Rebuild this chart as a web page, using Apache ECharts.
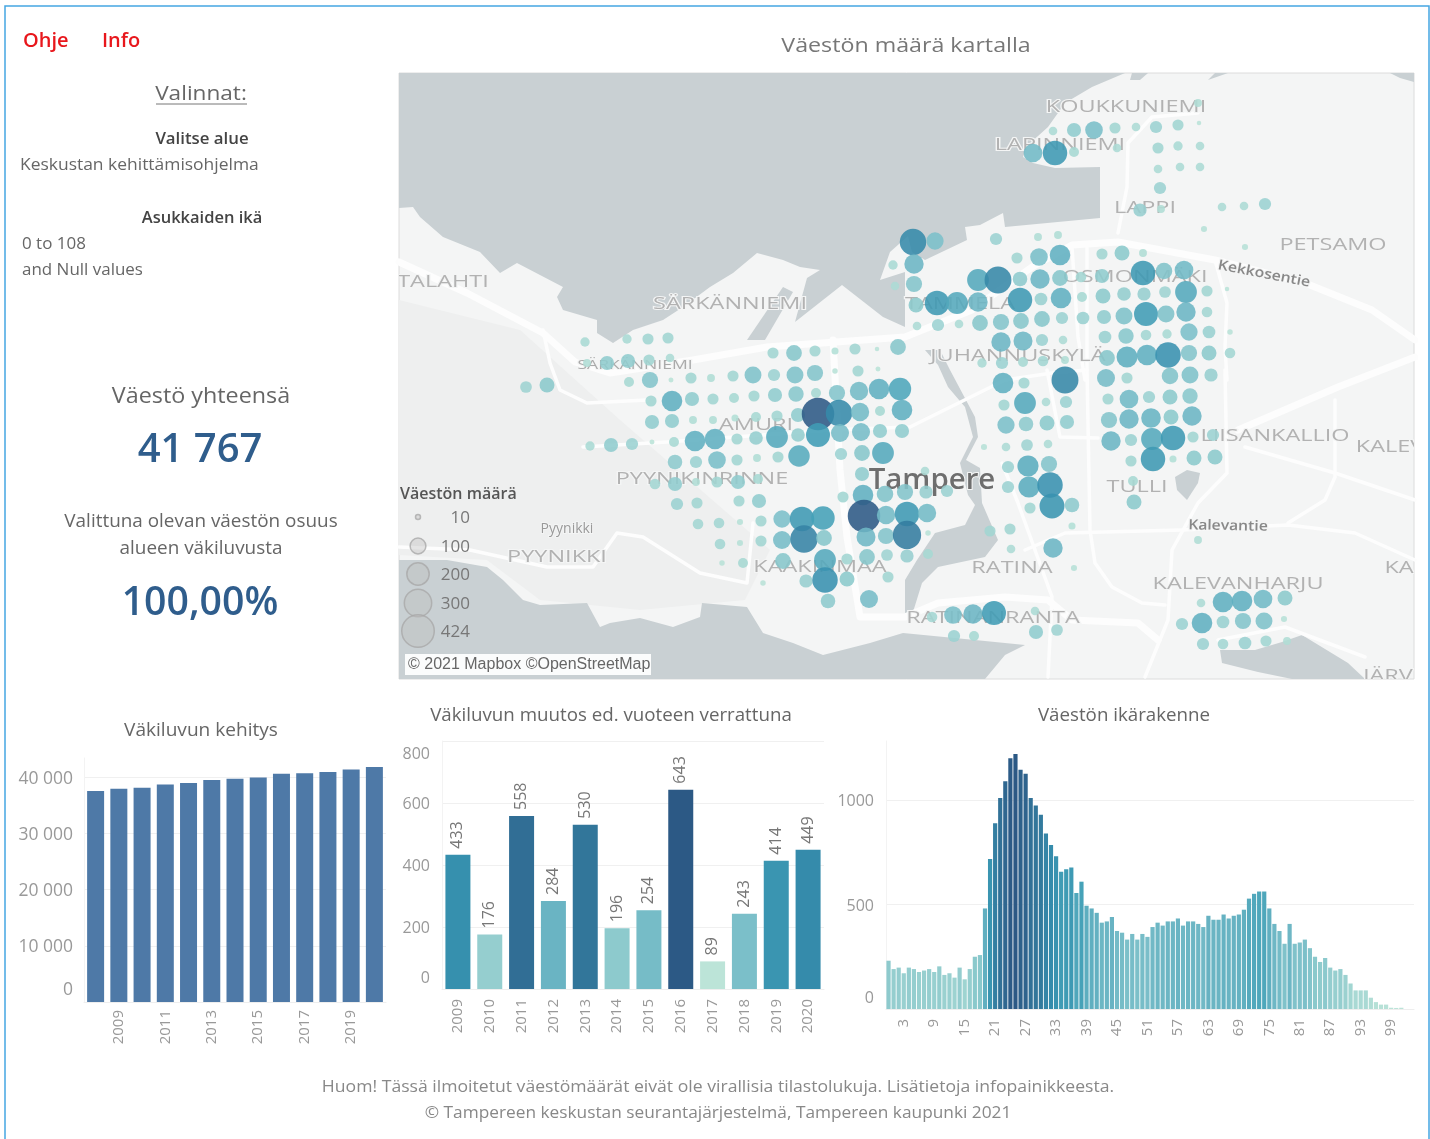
<!DOCTYPE html>
<html>
<head>
<meta charset="utf-8">
<title>Väestön määrä</title>
<script src="https://cdn.jsdelivr.net/npm/echarts@6/dist/echarts.min.js"></script>
<style>
  html, body { margin: 0; padding: 0; background: #fff; }
  #main { width: 1430px; height: 1139px; }
</style>
</head>
<body>
<div id="main"></div>
<script>
// väkiluku vuosittain
const popYears = ['2008','2009','2010','2011','2012','2013','2014','2015','2016','2017','2018','2019','2020']
const popValues = [37498,37931,38107,38665,38949,39479,39675,39929,40572,40661,40904,41318,41767]

// muutos ed. vuoteen
const changeYears = ['2009','2010','2011','2012','2013','2014','2015','2016','2017','2018','2019','2020']
const changeValues = [433,176,558,284,530,196,254,643,89,243,414,449]

// ikärakenne, iät 0-103
const ageValues = [231,191,198,171,198,191,177,184,191,177,204,163,171,150,198,142,191,250,258,481,
  718,888,1009,1090,1199,1220,1144,1125,1009,974,929,840,785,731,656,669,677,555,609,494,
  481,460,413,419,440,373,365,332,359,332,359,345,392,413,399,419,419,433,399,419,
  419,407,392,446,427,427,452,433,446,452,475,528,551,562,562,481,407,373,312,407,
  312,318,332,291,250,225,244,198,184,191,163,122,89,89,89,54,33,21,21,6,5,6,0,0]
const ageLabels = ageValues.map((v, i) => String(i))

// kartan pallot: x, y (kartan koordinaatit), asukkaita
const mapDots = [
  [585,342,35],[627,339,35],[648,339,50],[668,338,50],[607,363,80],[628,361,80],[649,360,50],[670,358,30],[587,363,25],
  [773,353,50],[794,353,100],[815,351,50],[835,351,20],[855,349,50],[877,349,8],[898,347,100],
  [526,387,55],[547,385,90],[629,382,40],[650,380,105],[671,380,10],[691,378,50],[711,378,25],[733,376,50],[753,375,115],
  [774,375,60],[795,375,115],[815,373,105],[835,371,12],[858,371,50],[878,369,10],
  [651,401,50],[672,401,170],[692,399,80],[713,399,50],[734,398,40],[754,396,50],[775,395,80],[796,394,95],[816,393,40],
  [837,393,105],[859,391,135],[879,389,170],[900,389,200],
  [652,422,80],[672,421,80],[693,420,25],[713,420,25],[735,418,20],[756,417,40],[777,416,50],[798,415,80],[818,414,424],
  [839,413,280],[860,412,135],[880,411,40],[902,410,170],
  [590,446,35],[611,445,80],[632,444,60],[652,442,10],[674,442,40],[695,441,170],[715,439,170],[737,439,50],[756,438,75],
  [777,437,190],[798,435,75],[818,435,230],[840,433,130],[861,432,130],[880,431,80],[902,431,80],
  [675,462,85],[696,462,60],[717,460,125],[737,460,50],[757,458,25],[778,457,50],[799,456,185],[841,454,60],[862,453,100],[883,453,190],
  [655,484,45],[675,484,80],[696,482,25],[717,482,50],[738,482,80],[758,479,40],[862,474,80],
  [677,504,60],[697,503,50],[739,501,50],[759,501,80],[843,497,50],[863,495,170],[885,494,110],[905,492,105],[926,492,70],[947,491,60],
  [698,524,45],[719,523,45],[740,522,15],[761,521,50],[782,519,120],[802,519,240],[823,518,220],[864,516,424],[886,515,135],[907,514,240],[927,513,135],
  [720,544,45],[740,543,15],[761,541,50],[782,540,130],[804,539,300],[824,538,100],[866,537,145],[886,536,105],[907,535,320],[928,533,12],
  [722,563,12],[743,563,40],[783,561,100],[825,560,190],[847,559,50],[867,557,100],[887,555,55],[907,556,70],[928,554,40],
  [763,583,12],[806,581,70],[825,580,260],[847,579,90],[888,577,50],[828,601,85],[869,599,130],
  [925,471,30],[990,531,50],[1010,529,50],[1011,549,30],[1053,548,150],[1074,568,15],[1072,526,20],[1030,508,50],[1052,506,250],[1072,505,85],
  [1008,487,60],[1029,487,180],[1050,485,260],[1008,467,60],[1028,466,180],[1049,464,105],[984,447,15],[1006,447,30],[1027,445,55],[1048,444,30],
  [1006,425,120],[1026,424,85],[1047,423,90],[1067,422,80],[1004,405,50],[1025,403,190],[1046,402,30],[1066,402,60],[1003,383,170],[1024,383,50],[1065,380,290],
  [1106,378,130],[1127,378,50],[1170,376,110],[1190,375,115],[1211,375,70],[1108,399,50],[1129,399,140],[1149,397,60],[1170,397,90],[1190,396,95],
  [1109,420,105],[1129,419,150],[1151,418,155],[1171,417,90],[1192,416,150],[1111,441,150],[1131,440,60],[1152,439,190],[1173,438,240],[1193,437,50],[1213,435,60],
  [1131,461,50],[1153,459,240],[1173,459,20],[1194,458,90],[1215,457,90],[1133,481,40],[1134,502,90],[1198,540,25],
  [1201,603,30],[1223,602,170],[1242,601,170],[1263,599,140],[1285,598,90],[1182,624,60],[1202,623,170],[1223,622,65],[1243,621,105],[1264,621,115],[1284,619,15],
  [1203,644,60],[1223,644,45],[1245,643,65],[1266,641,50],[1287,641,25],
  [932,617,45],[953,615,125],[973,614,150],[994,613,230],[1035,611,30],[1036,632,80],[1057,630,55],[954,636,60],[974,636,40],
  [1198,103,25],[1053,131,30],[1074,130,80],[1094,130,125],[1115,128,50],[1136,127,30],[1156,127,60],[1178,125,50],[1199,123,8],
  [1033,153,140],[1055,153,240],[1074,152,40],[1117,148,30],[1158,148,50],[1178,146,35],[1200,146,30],[1158,169,30],[1180,167,30],[1200,167,30],
  [1160,188,60],[1140,210,70],[1161,209,25],[1222,207,30],[1244,206,30],[1265,204,60],[1204,229,15],[1245,247,15],
  [913,242,280],[935,241,120],[996,239,60],[1038,237,25],[1058,235,25],[1017,258,50],[1039,257,125],[1060,255,170],[1102,254,50],[1122,253,90],[1143,253,25],
  [914,264,150],[893,265,35],[895,286,30],[914,284,105],[978,280,190],[998,280,290],[1020,279,85],[1040,279,150],[1060,278,100],[1081,277,45],[1102,276,80],[1143,273,240],[1164,271,110],[1184,270,140],
  [916,305,90],[937,303,240],[957,303,190],[978,302,150],[1020,300,240],[1041,299,65],[1061,298,170],[1082,297,40],[1103,296,90],[1124,294,75],[1144,294,70],[1165,292,55],[1186,292,190],[1207,291,50],[1227,289,8],
  [917,326,30],[938,325,60],[959,324,30],[980,323,100],[1001,322,105],[1021,321,100],[1042,319,100],[1062,318,60],[1083,318,65],[1104,317,80],[1124,316,115],[1146,314,230],[1166,314,115],[1186,312,150],[1207,312,45],
  [1230,332,12],[1001,342,150],[1023,341,145],[1042,340,60],[1063,340,30],[1105,337,65],[1126,336,95],[1146,335,45],[1167,334,35],[1189,332,120],[1209,332,65],
  [982,363,35],[1002,363,60],[1023,362,40],[1043,361,45],[1065,360,25],[1107,358,100],[1127,357,175],[1147,355,170],[1168,355,260],[1189,353,105],[1209,353,90],[1230,353,45]
]

// vesialueet kartalla
const waterAreas = [
  [[399,73],[1125,73],[1092,87],[1065,103],[1048,127],[1028,145],[1023,157],[1033,163],[1055,168],[1100,167],[1100,218],[1005,227],[1003,213],
   [980,225],[965,227],[967,240],[925,260],[912,252],[908,236],[890,252],[880,280],[905,272],[905,327],[883,317],[842,285],[795,322],[807,278],
   [820,270],[800,267],[783,260],[757,253],[733,273],[710,287],[683,307],[663,320],[633,330],[613,343],[597,333],[597,320],[563,310],[557,297],
   [563,287],[517,263],[500,273],[480,252],[443,237],[420,217],[413,207],[399,208]],
  [[747,340],[783,287],[793,292],[765,340]],
  [[399,560],[447,560],[487,567],[503,580],[523,600],[540,605],[587,603],[600,627],[610,623],[640,618],[673,627],[700,617],[702,603],[747,607],
   [763,633],[793,643],[823,655],[870,643],[903,633],[975,640],[1025,645],[1005,655],[985,679],[399,679]],
  [[905,613],[905,580],[917,560],[935,533],[965,525],[975,505],[968,495],[960,463],[973,437],[965,407],[948,387],[938,365],[925,350],[940,350],
   [950,370],[975,417],[978,437],[966,460],[980,468],[982,503],[998,540],[985,557],[938,567],[922,583],[913,612]],
  [[1220,650],[1222,663],[1258,672],[1292,679],[1365,679],[1348,663],[1302,635],[1282,642],[1255,650]],
  [[1187,470],[1200,473],[1198,483],[1187,500],[1177,490],[1175,477]],
  [[1132,73],[1148,73],[1140,80],[1130,80]],
  [[1208,80],[1228,73],[1215,73]],
  [[1390,73],[1414,73],[1414,82],[1400,78]]
]

// maaston varjostus vasemmalla
const landShade = [[399,300],[520,330],[620,420],[770,550],[745,600],[640,610],[540,600],[487,560],[399,555]]

// isot tiet
const mainRoads = [
  [[399,262],[467,293],[543,333],[575,362],[610,373],[693,360],[767,347],[905,337],[972,310],[1032,267],[1072,245],[1118,242],[1215,260],[1305,283],[1372,310],[1415,340]],
  [[1238,430],[1338,387],[1415,357]],
  [[833,340],[840,470],[847,537],[860,617],[905,617],[938,603],[1005,597],[1048,600],[1072,620],[1138,623],[1158,640]]
]

// pienemmät kadut
const minorRoads = [
  [[543,330],[550,363],[560,390],[587,403],[647,400]],
  [[583,447],[667,442],[830,430],[910,427],[1005,380],[1052,373],[1087,370]],
  [[399,547],[470,550],[547,567],[593,567],[617,533],[643,537],[700,573],[747,583],[753,523]],
  [[1087,248],[1087,370],[1090,530],[1095,563],[1112,587],[1142,603],[1165,605]],
  [[1025,550],[1065,533],[1182,530],[1288,525],[1355,533],[1415,560]],
  [[1225,370],[1227,473],[1198,503],[1172,550],[1168,620],[1145,677]],
  [[1245,447],[1335,473],[1415,500]],
  [[1335,400],[1335,477],[1325,500],[1288,523]],
  [[1048,677],[1052,597],[1018,503],[1002,463]],
  [[1198,113],[1152,117],[1128,143],[1127,187],[1118,233]],
  [[1215,260],[1227,303],[1225,347],[1227,380]],
  [[1072,247],[1078,337],[1085,380]],
  [[1047,370],[1060,437],[1098,438]],
  [[1218,640],[1285,627],[1365,657]]
]

// paikannimet kartalla
const placeNames = ['TALAHTI','SÄRKÄNNIEMI','KOUKKUNIEMI','LAPINNIEMI','LAPPI','PETSAMO','OSMONMÄKI','TAMMELA','JUHANNUSKYLÄ',
  'AMURI','LIISANKALLIO','KALEV','KA','TULLI','RATINA','KAAKINMAA','RATINANRANTA','PYYNIKINRINNE','PYYNIKKI','KALEVANHARJU','JÄRV']
const placeX = [443,730,1126,1060,1145,1333,1135,960,1018,756,1275,1390,1399,1137,1012,820,993,702,557,1238,1388]
const placeY = [282,304,107,145,208,245,277,304,356,425,436,447,568,487,568,567,618,479,557,584,676]

const legendValues = [10,100,200,300,424]
const legendY = [517,546,574,603,631]

// Blue-Teal väriskaala
const blueTeal = ['#bce4d8','#aedcd5','#a1d5d2','#95cecf','#89c8cc','#7ec1ca','#72bac6','#66b2c2','#59acbe','#4ba5ba',
  '#419eb6','#3b96b2','#358ead','#3586a7','#347ea1','#32779b','#316f96','#2f6790','#2d608a','#2c5985']

const fontName = 'Open Sans'
const axisColor = '#999'
const gridColor = '#f0f0f0'

const dotSize = v => 1.58 * Math.sqrt(v)
const spaced = v => String(v).replace(/\B(?=(\d{3})+$)/g, ' ')

// y-akselin tekstit: nolla nostetaan ylös ja ylin arvo lasketaan alas kuten kuvassa
function yLabels (show, zeroLift, topDrop, topValue, size) {
  const base = { fontSize: size, color: axisColor, fontFamily: fontName }
  return {
    margin: 10,
    formatter: v => {
      if (v === 0) return '{z|0}'
      if (v === topValue) return '{t|' + show(v) + '}'
      return '{a|' + show(v) + '}'
    },
    rich: {
      a: Object.assign({ padding: [3, 0, 0, 0] }, base),
      z: Object.assign({ padding: [0, 0, zeroLift * 2, 0] }, base),
      t: Object.assign({ padding: [topDrop * 2, 0, 0, 0] }, base)
    }
  }
}

// yksittäinen teksti graphic-elementtinä
function txt (text, x, y, size, color, align, weight, scaleX) {
  return {
    type: 'text', x: x, y: y, z: 50, scaleX: scaleX || 1, silent: true,
    style: {
      text: text, fill: color, fontSize: size, fontFamily: fontName, fontWeight: weight || 'normal',
      align: align || 'center', verticalAlign: 'middle'
    }
  }
}

// kartan tekstit, x ja y kartan akseleilta
function mapText (pos, api, text, size, color, halo, scaleX, align, rotation, weight) {
  const pt = api.coord(pos)
  return {
    type: 'text', x: pt[0], y: pt[1], scaleX: scaleX, rotation: rotation || 0,
    style: {
      text: text, fill: color, fontSize: size, fontFamily: fontName, fontWeight: weight || 'normal',
      stroke: halo ? '#f4f5f5' : null, lineWidth: halo ? 2 : 0,
      align: align || 'center', verticalAlign: 'middle'
    }
  }
}

const chart = echarts.init(document.getElementById('main'))

const option = {
  animation: false,
  backgroundColor: '#fff',
  grid: [
    { left: 399, top: 73, width: 1015, height: 606, show: true, backgroundColor: '#f4f5f5', borderColor: '#dcdcdc', borderWidth: 1 },
    { left: 84, top: 758, width: 302, height: 244 },
    { left: 442, top: 741, width: 382, height: 248 },
    { left: 886, top: 741, width: 528, height: 268 }
  ],
  xAxis: [
    { gridIndex: 0, type: 'value', min: 399, max: 1414, show: false },
    {
      gridIndex: 1, type: 'category', data: popYears,
      axisTick: { show: false }, axisLine: { lineStyle: { color: '#eee' } },
      axisLabel: { rotate: 90, margin: 8, fontSize: 15, color: axisColor, fontFamily: fontName, interval: (i) => i % 2 === 1 }
    },
    {
      gridIndex: 2, type: 'category', data: changeYears,
      axisTick: { show: false }, axisLine: { lineStyle: { color: '#eee' } },
      axisLabel: { rotate: 90, margin: 10, fontSize: 15, color: axisColor, fontFamily: fontName, interval: 0 }
    },
    {
      gridIndex: 3, type: 'category', data: ageLabels,
      axisTick: { show: false }, axisLine: { lineStyle: { color: '#eee' } },
      axisLabel: { rotate: 90, margin: 10, fontSize: 15, color: axisColor, fontFamily: fontName, interval: (i) => i % 6 === 3 }
    }
  ],
  yAxis: [
    { gridIndex: 0, type: 'value', min: 73, max: 679, inverse: true, show: false },
    {
      gridIndex: 1, type: 'value', min: 0, max: 43385, interval: 10000,
      axisLine: { show: true, lineStyle: { color: '#f3f3f3' } }, axisTick: { show: false },
      splitLine: { showMaxLine: false, lineStyle: { color: gridColor } },
      axisLabel: Object.assign(yLabels(spaced, 12, 0, null, 17.5), { showMaxLabel: false, margin: 11 })
    },
    {
      gridIndex: 2, type: 'value', min: 0, max: 800, interval: 200,
      axisLine: { show: true, lineStyle: { color: '#f3f3f3' } }, axisTick: { show: false },
      splitLine: { lineStyle: { color: gridColor } },
      axisLabel: Object.assign(yLabels(String, 11, 13, 800, 16), { margin: 12 })
    },
    {
      gridIndex: 3, type: 'value', min: 0, max: 1282, interval: 500,
      axisLine: { show: true, lineStyle: { color: '#f3f3f3' } }, axisTick: { show: false },
      splitLine: { showMaxLine: false, lineStyle: { color: gridColor } },
      axisLabel: Object.assign(yLabels(String, 11, 0, null, 16), { showMaxLabel: false, margin: 12 })
    }
  ],
  visualMap: [
    { show: false, seriesIndex: 3, dimension: 2, min: 5, max: 424, inRange: { color: blueTeal } },
    { show: false, seriesIndex: 8, dimension: 1, min: 89, max: 643, inRange: { color: blueTeal } },
    { show: false, seriesIndex: 9, dimension: 1, min: 0, max: 1220, inRange: { color: blueTeal } }
  ],
  series: [
    // 0 vesialueet
    {
      type: 'custom', xAxisIndex: 0, yAxisIndex: 0, clip: true, silent: true,
      data: waterAreas.map((a, i) => [i]),
      renderItem: (params, api) => ({
        type: 'polygon',
        shape: { points: waterAreas[api.value(0)].map(p => api.coord(p)) },
        style: { fill: '#c9d0d3' }
      })
    },
    // 1-2 tiet
    {
      type: 'lines', coordinateSystem: 'cartesian2d', xAxisIndex: 0, yAxisIndex: 0, polyline: true, silent: true,
      lineStyle: { color: '#fdfdfd', width: 7, opacity: 1, cap: 'round', join: 'round' },
      data: mainRoads.map(r => ({ coords: r }))
    },
    {
      type: 'lines', coordinateSystem: 'cartesian2d', xAxisIndex: 0, yAxisIndex: 0, polyline: true, silent: true,
      lineStyle: { color: '#fdfdfd', width: 3.5, opacity: 1, cap: 'round', join: 'round' },
      data: minorRoads.map(r => ({ coords: r }))
    },
    // 3 väestöpallot
    {
      type: 'scatter', xAxisIndex: 0, yAxisIndex: 0, silent: true,
      data: mapDots,
      symbolSize: v => dotSize(v[2]),
      itemStyle: { opacity: 0.88 }
    },
    // 4 paikannimet
    {
      type: 'custom', xAxisIndex: 0, yAxisIndex: 0, clip: true, silent: true,
      data: placeNames.map((n, i) => [placeX[i], placeY[i], i]),
      renderItem: (params, api) => mapText([api.value(0), api.value(1)], api, placeNames[api.value(2)], 17, '#b2b2b2', true, 1.38)
    },
    // 5 kaupunki, tiet ja muut erikoiskoot
    {
      type: 'custom', xAxisIndex: 0, yAxisIndex: 0, clip: true, silent: true,
      data: [[932, 481], [635, 365], [567, 529], [1264, 274], [1228, 526]],
      renderItem: (params, api) => {
        const pos = [api.value(0), api.value(1)]
        const i = params.dataIndex
        if (i === 0) return mapText(pos, api, 'Tampere', 28, '#6e6e6e', true, 1.05, 'center', 0, 600)
        if (i === 1) return mapText(pos, api, 'SÄRKÄNNIEMI', 13, '#aaaaaa', true, 1.35)
        if (i === 2) return mapText(pos, api, 'Pyynikki', 14, '#999999', true, 1)
        if (i === 3) return mapText(pos, api, 'Kekkosentie', 14, '#888888', true, 1.13, 'center', -0.19, 600)
        return mapText(pos, api, 'Kalevantie', 14, '#888888', true, 1.12, 'center', -0.02, 600)
      }
    },
    // 6 koon selite
    {
      type: 'scatter', xAxisIndex: 0, yAxisIndex: 0, silent: true,
      data: legendValues.map((v, i) => [418, legendY[i], v]),
      symbolSize: v => dotSize(v[2]),
      itemStyle: { color: 'rgba(190,190,190,0.5)', borderColor: '#a9a9a9', borderWidth: 1.5 }
    },
    // 7 väkiluku
    {
      type: 'bar', xAxisIndex: 1, yAxisIndex: 1, data: popValues, barWidth: 17,
      itemStyle: { color: '#4e79a7' }, silent: true
    },
    // 8 muutos
    {
      type: 'bar', xAxisIndex: 2, yAxisIndex: 2, data: changeValues, barWidth: 25, silent: true,
      label: { show: true, position: 'top', rotate: 90, align: 'left', verticalAlign: 'middle', distance: 6, fontSize: 16, color: '#777', fontFamily: fontName }
    },
    // 9 ikärakenne
    {
      type: 'bar', xAxisIndex: 3, yAxisIndex: 3, data: ageValues, barWidth: 4.2, silent: true
    },
    // 10 selitteen luvut
    {
      type: 'custom', xAxisIndex: 0, yAxisIndex: 0, silent: true,
      data: legendValues.map((v, i) => [470, legendY[i] + 1, v]),
      renderItem: (params, api) => mapText([api.value(0), api.value(1)], api, String(api.value(2)), 17, '#777777', false, 1, 'right')
    },
    // 11 maaston varjostus veden alle
    {
      type: 'custom', xAxisIndex: 0, yAxisIndex: 0, clip: true, silent: true, z: 1,
      data: [[0]],
      renderItem: (params, api) => ({
        type: 'polygon',
        shape: { points: landShade.map(p => api.coord(p)) },
        style: { fill: '#eeefef' }
      })
    }
  ],
  graphic: [
    txt('Ohje', 23, 41, 20, '#e8171c', 'left', 600),
    txt('Info', 102, 41, 20, '#e8171c', 'left', 600),
    txt('Väestön määrä kartalla', 906, 46, 20, '#777', 'center', 'normal', 1.16),
    txt('Valinnat:', 201, 94, 20, '#666', 'center', 'normal', 1.13),
    { type: 'line', z: 50, shape: { x1: 156, y1: 104, x2: 247, y2: 104 }, style: { stroke: '#777', lineWidth: 1 } },
    txt('Valitse alue', 202, 139, 16, '#444', 'center', 600, 1.05),
    txt('Keskustan kehittämisohjelma', 20, 165, 16, '#666', 'left', 'normal', 1.09),
    txt('Asukkaiden ikä', 202, 218, 16, '#444', 'center', 600, 1.03),
    txt('0 to 108', 22, 244, 16, '#666', 'left', 'normal', 1.06),
    txt('and Null values', 22, 270, 16, '#666', 'left', 'normal', 1.06),
    txt('Väestö yhteensä', 201, 397, 22, '#666', 'center', 'normal', 1.06),
    txt('41 767', 200, 451, 40, '#2f5d8c', 'center', 600, 1.0),
    txt('Valittuna olevan väestön osuus', 201, 522, 18, '#666', 'center', 'normal', 1.05),
    txt('alueen väkiluvusta', 201, 549, 18, '#666', 'center', 'normal', 1.05),
    txt('100,00%', 200, 604, 40, '#2f5d8c', 'center', 600, 0.98),
    txt('Väkiluvun kehitys', 201, 731, 18, '#666', 'center', 'normal', 1.06),
    txt('Väkiluvun muutos ed. vuoteen verrattuna', 611, 716, 18, '#666', 'center', 'normal', 1.04),
    txt('Väestön ikärakenne', 1124, 716, 18, '#666', 'center', 'normal', 1.04),
    txt('Väestön määrä', 400, 494, 16, '#555', 'left', 600, 1.0),
    { type: 'rect', z: 50, shape: { x: 405, y: 654, width: 246, height: 21 }, style: { fill: 'rgba(255,255,255,0.92)' } },
    { type: 'text', z: 51, x: 408, y: 665, style: { text: '© 2021 Mapbox ©OpenStreetMap', fill: '#666', fontSize: 16, fontFamily: 'Liberation Sans', align: 'left', verticalAlign: 'middle' } },
    txt('Huom! Tässä ilmoitetut väestömäärät eivät ole virallisia tilastolukuja. Lisätietoja infopainikkeesta.', 718, 1087, 16, '#888', 'center', 'normal', 1.1),
    txt('© Tampereen keskustan seurantajärjestelmä, Tampereen kaupunki 2021', 718, 1113, 16, '#888', 'center', 'normal', 1.08),
    { type: 'rect', z: 60, shape: { x: 5, y: 6, width: 1424, height: 1150 }, style: { fill: 'none', stroke: '#45a7e2', lineWidth: 1.5 } }
  ]
}

chart.setOption(option)
</script>
</body>
</html>
